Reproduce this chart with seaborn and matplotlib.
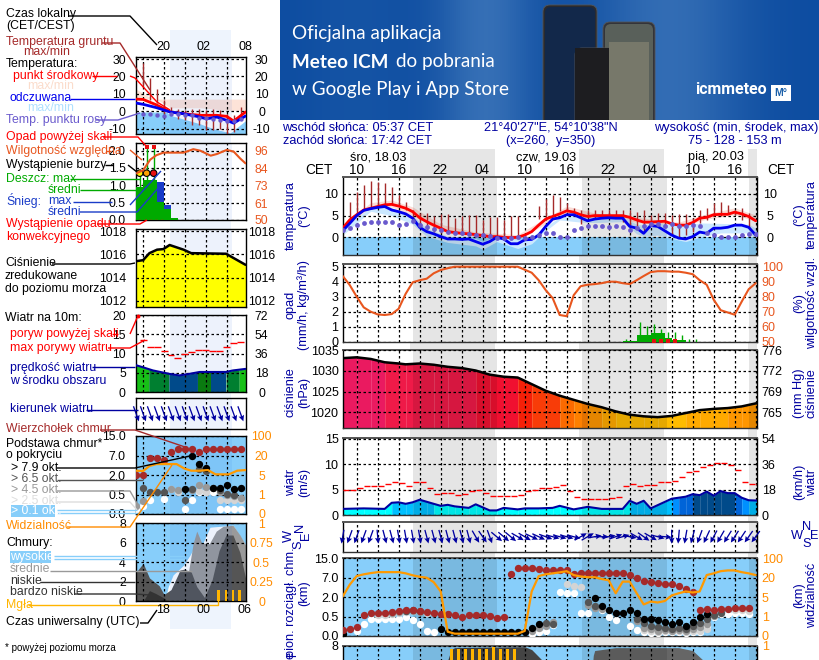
import numpy as np
import seaborn as sns
import matplotlib.pyplot as plt
from matplotlib.patches import FancyBboxPatch, Rectangle
from matplotlib.ticker import NullLocator

# ---- main meteogram, hours counted in CET from 18.03 00:00
hours = list(range(8, 68))
temp_mid = [2.1, 4, 5.2, 6.3, 6.7, 7.1, 7.5, 7.6, 7.2, 6.7, 5.9, 4.5, 3.6, 2.8, 2.1, 1.3, 1.1, .9, .8, .6,
            .4, .15, .15, 0, -.1, 0, .5, 1.3, 2.8, 4.2, 4.8, 5.4, 6.1, 5.8, 5.2, 4.8, 5, 5, 5, 5,
            5, 4.6, 4, 3.5, 3.5, 3.6, 3.7, 3.1, 2.8, 2.8, 3.4, 4.4, 4.6, 5.2, 5.3, 5.3, 5.8, 5.4, 4.8, 3.8]
temp_feel = [1.5, 3.2, 5, 6.2, 6.6, 6.9, 7.1, 6.3, 5.9, 5.4, 4.4, 2.3, 1.3, .8, .15, -.4, -.4, -.5, -.4, -1,
             -1.6, -1, 0, -.4, -1.5, -1.5, -.6, -.5, .5, 2.5, 4.2, 4.5, 5.2, 5.2, 4.5, 3.8, 4.2, 4.4, 4.5, 4.4,
             4.4, 2.5, 2.1, .9, 2.7, 2.5, 1.5, .5, -.2, -.4, .15, 1.2, .9, 2.1, 2.1, 2.3, 2.8, 2.8, 2.3, .5]
dew = [1.6, 2.1, 2.8, 3.4, 3.6, 3.6, 3.6, 3.5, 2.8, 3.1, 3.8, 2.8, 2.3, 1.8, 1.7, 1.2, .9, .9, .8, .6,
       .5, .2, -.1, -.1, -.2, 0, -.2, .15, .5, .9, .9, 0, 0, 1.7, 2.2, 2.6, 2.6, 2.5, 2.3, 2.5,
       2.4, 1.7, 2.1, 2.5, 3, 3.1, 2.5, 3.1, 2.5, 2.7, 2.8, 2.5, .9, .5, .15, 0, .15, .5, .7, .7]
ground_h = list(range(9, 34)) + list(range(36, 67))
ground_hi = [8.1, 10.5, 12, 13, 12.8, 12.5, 11.5, 9.8, 8.1, 6.3, 5.5, 5.5, 4.8, 5.3, 5.3, 4.4, 4.8, 5.2, 5.2, 4,
             4.6, 4.6, 4, 4.9, 4.9, 7.2, 8.8, 9.8, 9.2, 7.8, 6.7, 6.3, 6.3, 6.2, 6.3, 6.3, 6.3, 6.3, 6.3, 5.9,
             6.2, 5.2, 5.7, 5.5, 5.2, 5.4, 5.4, 4.4, 6.3, 6.7, 8, 8.2, 7.5, 6.3, 6.7, 5.7]
ground_lo = [4, 4.8, 6.3, 6.7, 7.1, 7.4, 7.5, 7.2, 6.3, 4, 2.5, 1.7, 1.3, .9, .9, .9, .9, .5, .4, .15,
             0, 0, 0, 0, 0, 4.2, 4.4, 4.8, 6.1, 5.9, 5.5, 3.1, 4.4, 4.4, 4.4, 4.4, 4.4, 3.6, 2.6, 2.5,
             1.3, 2.5, 2.5, 2.1, .5, 0, .5, 1.3, 3.4, 4, 4.8, 4.8, 5.5, 5.2, 4, 2.1]
pink_h = [8, 12, 15, 18, 22, 27, 33, 36, 40, 44, 50, 56, 60, 64, 68]
pink_hi = [3, 8, 8.6, 7, 3, 1.2, .6, 3.5, 7.2, 5.6, 4.6, 3.5, 5.4, 6.8, 4.6]
pink_lo = [1.5, 6.2, 7, 5, 1.5, .1, -.4, 2.2, 5.5, 4.4, 3.5, 2.2, 4.2, 5.2, 3.2]
feel_h = [8, 12, 15, 18, 20, 23, 27, 28, 30, 33, 35, 37, 39, 42, 44, 48, 50, 51, 53, 55, 57, 59, 62, 66, 68]
feel_hi = [2, 7, 6.8, 5, 2, .2, -.3, -1, .3, -.6, 0, 2.5, 4.6, 5.2, 4.4, 4.8, 3, 2.8, 3.2, 3.1, 3, 3.3, 3.2, 3, 1.2]
feel_lo = [.5, 6, 5, 3, .2, -1.2, -2, -2.8, -1, -2.6, -1.5, 1.5, 4, 3.5, 3.4, 3.6, .8, .2, .5, -.3, -1, 0, 1, 1, -1.4]

rh = [93.8, 87.8, 80, 72.9, 70, 68.2, 67.8, 68.4, 72, 82, 89.6, 91, 92, 95.6, 97.8, 99, 100, 100, 100, 100,
      100, 100, 100, 100, 100, 100, 98, 96, 91, 84.4, 79, 67.8, 67, 81, 87, 88, 88.4, 89, 90, 90,
      89, 88.4, 91, 93.8, 96.4, 97, 97, 96.7, 96.7, 96, 95, 91, 88, 78, 71, 69.5, 68, 76.7, 85, 89]
rain_h = [48, 49, 50, 51, 52, 53, 54, 55, 56]
rain_mean = [.05, .05, .44, .44, .6, .6, .22, .1, .1]
rain_max_h = [48.5, 50.5, 51.5, 52.5, 53.5, 54.5, 55.5, 56.5, 57.5, 58.5]
rain_max = [.2, 1.33, 1.04, 1.2, .82, .67, .67, .44, .2, .2]
conv_h = [52.5, 53.5, 54.5, 55.5]

press_h = [8, 10, 12, 14, 16, 17, 19, 21, 23, 25, 27, 29, 31, 33, 35, 37, 39, 41, 43, 45, 47, 49, 51, 53, 55, 57, 59, 61, 63, 65, 68]
press = [1033.1, 1033.3, 1032.9, 1032.1, 1031.8, 1031.6, 1031.8, 1031.5, 1031, 1030.7, 1030.1, 1029.1, 1028.6, 1028.4,
         1026.8, 1025.2, 1024, 1023, 1022, 1021.2, 1020.2, 1019.4, 1019, 1018.8, 1019.1, 1019.8, 1020.5, 1020.8, 1021, 1021.4, 1022.5]
press_edges = [1000, 1020, 1021, 1022, 1023, 1024, 1026, 1028, 1030, 1032, 1040]
press_colors = ["#ffbc00", "#ffaa00", "#fe9600", "#fd8000", "#fb6a00", "#f83c08", "#f52008", "#f01030", "#ef1a48", "#ea1a60"]

wind_h = [8, 11, 14, 15, 16, 17, 18, 19, 20, 21, 22, 23, 24, 26, 27, 28, 29, 30, 31, 33, 34, 36, 38, 39, 41, 43, 45, 48, 49, 50, 51, 52, 55, 56, 57, 58, 59, 60, 61, 62, 63, 64, 65, 66, 68]
wind = [1.2, 1.3, 1.2, 2.4, 2.5, 2.2, 2.5, 3, 2.6, 2.2, 1.8, 2, 1.7, 1.4, 2.1, 1.5, .9, .9, 1.4, 1.1, 1.3, 1.3, 1.4, 1.8, 1.1, 1.6, 1.2, 1.2, 2.8, 2.2, 2.8, 1.3, 3.2, 3.4, 3.6, 4.1, 3.9, 4.6, 3.8, 4.7, 4.3, 4.3, 3.4, 2.9, 2.8]
gust = [5, 5, 5.4, 5.7, 5.7, 5.7, 6.05, 6.4, 6.2, 5.8, 6.4, 6.4, 5.4, 4.1, 4.3, 4.3, 3.9, 4.1, 4.8, 5,
        4.3, 3.7, 3.7, 3.7, 3.7, 3.9, 4.7, 5, 5.3, 5.3, 5.6, 5.9, 4.7, 3.5, 3.1, 3.1, 3.1, 3.1, 3.4, 3.6,
        5.7, 6.1, 5.7, 5.9, 5.9, 6.4, 6.4, 6.7, 7.4, 8.4, 8.7, 9.4, 9.9, 10.2, 10.2, 9.9, 8.8, 6.4, 6.05, 6.05]
wind_edges = [0, 2, 3, 3.3, 3.9, 9]
wind_colors = ["#00ffff", "#00c0ff", "#0090ff", "#0064d8", "#004a8a"]
wind_dir = [10, 20, 20, 20, 20, 355, 345, 345, 350, 350, 350, 350, 345, 345, 345, 345, 345, 345, 345, 330,
            325, 340, 310, 310, 310, 300, 300, 295, 295, 290, 285, 285, 285, 285, 240, 240, 260, 270, 260, 250,
            255, 280, 300, 305, 300, 285, 275, 0, 5, 10, 15, 20, 25, 28, 30, 32, 33, 34, 35, 36]

cloud_top_h = list(range(8, 32)) + list(range(32, 67))
cloud_top = [.15, .18, .24, .63, .81, .81, .81, .89, .94, .97, .97, .94, .89, .79, .71, .71, .63, .49, .6, .63, .6, .55, .47, .48,
             8.5, 10.8, 10.9, 10.9, 10.6, 10.3, 10.3, 10, 10, 8.5, 8.8, 8.8, 8.8, 8.8, 8.8, 8.8, 8.8, 8.3, 6.9, 6.1, 5.8, 5.6, 5.4, 5.4, 4.75, 4.15, 3.3,
             1, 1.07, 1, 1.07, 1.1, 1.2, 1.16, 1.16]
c79_h = [8, 22] + list(range(23, 36)) + [36, 44, 45, 46, 47, 48, 49, 50, 51, 52, 53, 54, 55, 56, 57, 58, 59, 60]
c79 = [.06, .17] + [.11] * 12 + [.2, .32, 1.9, 1.28, 1, .8, .8, 1, .77, .43, .43, .41, .35, .32, .37, .26, .37, .5, .73]
c65_h = [17, 18, 19, 37, 38, 43, 44, 50, 51, 52, 53, 54, 55, 56, 57, 58, 59, 60, 61, 62]
c65 = [.92, .97, .9, .34, .3, 1.6, 1.3, .43, .33, .26, .24, .2, .18, .2, .17, .26, .33, .45, .6, .8]
c45_h = [15, 16, 17, 18, 19, 35, 36, 37, 38, 43, 44, 45, 50, 51, 52, 53, 54, 55, 56, 57, 58, 59, 60, 61]
c45 = [.75, .85, .9, .93, .88, .12, .2, .25, .37, 1.4, 1.2, 1.1, .38, .2, .17, .14, .16, .14, .15, .13, .18, .22, .3, .55]
c25_h = [13, 14, 15, 16, 17, 18, 19, 20, 38, 40, 41, 42, 51, 52, 53, 54, 55, 56, 57, 58, 59, 60, 64, 65, 66]
c25 = [.6, .6, .7, .8, .85, .9, .9, .8, .3, 5.4, 4.75, 4.5, .16, .14, .1, .12, .12, .12, .1, .12, .14, .18, 1, 1, .9]
c01_h = [10, 11, 12, 13, 14, 15, 16, 17, 18, 19, 20, 21, 35, 36, 37, 38, 39, 40, 41, 42, 43, 45, 46, 47, 49, 50, 51, 52, 53, 54, 55, 56, 57, 58, 59, 60, 61, 62, 63, 64, 65, 66]
c01 = [.13, .32, .45, .45, .45, .45, .45, .48, .42, .3, .13, .1, .06, .1, .12, .28, 3.3, 3, 3, .8, .8, 1, .5, .4, .26, .15, .1, .08, .08, .1, .1, .1, .08, .1, .1, .25, .5, .7, .7, .8, .8, .7]
vis = [5.5, 14.6, 27, 34, 39, 43, 43, 43, 43, 38, 30, 24, 20, 16.6, 9.4, .22, .12, .12, .12, .12,
       .12, .12, .12, .12, .12, .12, .26, 9.4, 27, 34, 38, 42, 47, 31, 25, 22, 22, 19, 18, 8,
       17, 17, 8, 3.5, 4.1, 3.9, 4.2, 6.3, 8, 9.4, 8.6, 9.4, 31, 38, 47, 50, 50, 43, 38, 31]
cover_low_h = [22, 23, 23.5, 24, 34, 35, 36.5, 37.3, 38]
cover_low = [0, 6.5, 7.6, 7.8, 7.9, 7.6, 6.5, 5, 0]
cover_mid_h = [43, 43.8, 44, 47, 56, 58, 59.5, 60.5]
cover_mid = [0, 7, 7.5, 7.8, 7.8, 7.5, 6.5, 0]
fog_h = [23.5, 24.5, 25.5, 26.5, 27.5, 28.5, 29.5, 30.5, 31.5, 32.5]
fog = [7.7, 7.7, 7.7, 7.7, 7.7, 7.7, 7.9, 7.7, 7.7, 7.7]

# ---- left legend meteogram, hours in UTC
l_hours = list(range(15, 30))
l_temp_h = [13.9, 15, 16.9, 18.9, 20.8, 23.2, 25.6, 27, 28, 29.7]
l_temp = [7, 6.8, 3.7, -.4, -1.4, -2.3, -2.3, -2.9, -5.6, -.4]
l_feel_h = [13.9, 15, 16.9, 18.9, 20.8, 22.7, 24.1, 25.6, 27, 28, 29.7]
l_feel = [4.8, 4, 2.1, -.4, -1.4, -2.9, -4.3, -3.3, -5.2, -6.8, -2.7]
l_pink_h = [13.9, 15.5, 16.9, 18.9, 23.2, 27, 29.7]
l_pink = [13, 9, 7, 2, 2, .6, .6]
l_blue_h = [13.9, 18.4, 18.9, 23.2, 25.1, 27.5, 29.7]
l_blue = [-.4, -.4, -2.3, -7.2, -10, -12.4, -5.4]
l_dew = [-1.4, -1.4, -2.3, -2.7, -1.4, -1.4, -2.3, -2.3, -3.7, -3.7, -4.3, -4.8, -5.6, -5.6, -4.3]
l_ground_hi = [27.7, 19, 13, 6.4, 2.5, 1.5, .6, 1.5, 1.5, 1, 1.5, .6, -1.4, -2.3, 2.5]
l_ground_lo = [14, 6.4, 4.5, -1.4, -2.3, -4.3, -5.2, -8, -8, -11, -11, -10, -13, -12, -5.2]
l_rain_h = [14, 15, 16, 17, 18, 19]
l_rain = [.96, 1.15, 1.15, .53, .33, .06]
l_snow = [0, 0, 0, .57, .1, 0]
l_stem_h = [14.5, 15.5, 16.5]
l_stem_lo = [.96, 1.15, 1.15]
l_stem_hi = [1.35, 2.1, 2.1]
l_storm_colors = ["#ffee00", "#ffa000", "#e81010"]
l_rh_h = [14, 15, 16, 16.9, 17.9, 20.8, 22.2, 23.2, 24.7, 25.6, 27, 28, 28.9, 29.7]
l_rh = [81, 83, 90, 93, 94.7, 94.7, 97, 96, 92.7, 93.8, 96.5, 95.4, 91, 87.6]
l_press_h = [13.9, 15, 15.9, 17, 17.9, 18.8, 20.8, 21.9, 26.9, 29.7]
l_press = [1015.4, 1015.5, 1016.1, 1016.4, 1016.45, 1016.8, 1016.4, 1016.1, 1016.05, 1015.1]
l_wind_h = [13.9, 15, 16.4, 18.8, 20.2, 21.6, 23.1, 26.9, 27.9, 29.7]
l_wind = [7, 6.4, 5.6, 4.7, 4.3, 4.7, 5.2, 5.2, 5.6, 6]
l_gust = [13.5, 11.6, 11.6, 10.6, 9.6, 8.9, 9.8, 10.4, 10.9, 10.9, 10.6, 10.6, 11.6, 12.8, 13]
l_wind_edges = [13.9, 15.8, 18.7, 22.8, 24.8, 26.9, 28.8, 29.7]
l_wind_colors = ["#17c017", "#007f30", "#004a8a", "#0a7a10", "#004a8a", "#007f30", "#17c017"]
l_dir = [340] * 16
l_top_h = list(range(14, 30))
l_top = [2, 2, 6.3, 6.3, 5.9, 8.6, 9.5, 9.5, 9.5, 8.6, 9.5, 9.5, 9.5, 9.5, 9.5, 9.5]
l_c79_h = [21, 22, 23, 24, 25, 26, 27, 28, 29]
l_c79 = [.9, 6.9, 4.75, 3.9, 1, 1, 1.24, .9, 1]
l_c65_h = [15, 16, 17, 18, 21, 22, 23, 24, 26, 27, 28]
l_c65 = [1, .67, .67, .67, .36, .9, 3.5, 3, .86, .56, .5]
l_c45_h = [14, 15, 19, 20, 22, 23, 24, 25, 26, 27, 28, 29]
l_c45 = [.2, .34, .9, .85, .85, 1.2, 1.1, 1, .7, .5, .45, .42]
l_c25_h = [19, 20, 23, 24, 26, 27, 28, 29]
l_c25 = [.9, .7, .8, .7, .36, .36, .36, .36]
l_c01_h = [14, 15, 16, 18, 21, 22, 23, 24, 25, 26, 27, 28, 29]
l_c01 = [.13, .2, .36, .38, .13, .36, .72, .67, .67, .13, .13, .13, .13]
l_vis_h = [13.9, 15, 15.9, 16.9, 19.8, 20.9, 21.9, 23.1, 24.3, 25.4, 27.3, 28.5, 29.7]
l_vis = [8.3, 8.1, 11.9, 13.4, 13.4, 10, 8.3, 8.3, 8.8, 5.5, 5.5, 8.3, 8.8]
l_high_h = [18.1, 18.6, 19.3, 20.8, 21.7, 22.4, 23.6, 24.6, 27.9, 28.9, 29.7]
l_high = [0, 1.5, 2.7, 3.7, 4.7, 5.6, 6, 7.6, 7.8, 6.7, 5.8]
l_mid_h = [13.9, 19, 20.3, 21.5, 22.2, 22.7, 23.4, 24.5, 25.5, 26.5, 27.9, 28.9, 29.7]
l_mid = [0, 0, 3.2, 3, 6, 7.2, 6, 5.9, 7.2, 7.7, 7.8, 6.8, 5.8]
l_low_h = [13.9, 15, 15.9, 17.3, 18, 19, 20.3, 20.9, 21.9, 22.7, 23.8, 24.9, 25.9, 26.9, 27.9, 28.9, 29.7]
l_low = [2.9, 3.9, 2.4, 1.6, .7, 1.2, 3.2, 3.3, 3, 1.5, .4, 2.2, 5.2, 6.8, 6.8, 5, 2.4]
l_vlow_h = [15, 15.9, 16.8, 18.1, 18.4]
l_vlow = [0, 1.1, .8, .3, 0]
l_fog_h = [25.8, 26.9, 27.9, 28.9]
l_fog = [1.15, 1.15, 1.15, 1.15]

W, H = 820, 660
NAVY = "#0000a0"
RED = "#ff0000"
BROWN = "#a52a2a"
ORANGE = "#ff8c00"
RH_COL = "#e8561e"
SKY = "#87cefa"
FONT = "Liberation Sans"
GRID = (0, (2, 2))
CLOUD_COLS = ["#000000", "#555555", "#999999", "#d4d4d4", "#ffffff"]

sns.set_theme(style="white")
plt.rcParams["font.family"] = FONT
plt.rcParams["font.size"] = 8.8
plt.rcParams["text.color"] = "black"
plt.rcParams["axes.unicode_minus"] = False
plt.rcParams["xtick.color"] = "black"
plt.rcParams["ytick.color"] = "black"


def km_fwd(v):
    return np.interp(v, [0, .5, 2, 7, 15], [0, 1, 2, 3, 4])


def km_inv(v):
    return np.interp(v, [0, 1, 2, 3, 4], [0, .5, 2, 7, 15])


def vis_fwd(v):
    return np.interp(v, [0, 1, 5, 20, 100], [0, 1, 2, 3, 4])


def vis_inv(v):
    return np.interp(v, [0, 1, 2, 3, 4], [0, 1, 5, 20, 100])


fig = plt.figure(figsize=(W / 100, H / 100), dpi=100, facecolor="white")


def panel(x0, y0, x1, y1, xlim, xticks):
    ax = fig.add_axes([x0 / W, 1 - y1 / H, (x1 - x0) / W, (y1 - y0) / H], zorder=2)
    ax.set_xlim(*xlim)
    ax.set_xticks(xticks)
    ax.tick_params(axis="x", labelbottom=False, length=0)
    ax.tick_params(axis="y", length=0)
    ax.grid(True, color="black", linestyle=GRID, linewidth=0.9)
    ax.set_axisbelow(False)
    for s in ax.spines.values():
        s.set_visible(True)
        s.set_color("black")
        s.set_linewidth(1)
    return ax


def main_panel(y0, y1):
    ax = panel(342.7, y0, 757.5, y1, (8, 67.26), list(range(10, 68, 3)))
    ax.spines["top"].set_color("#555555")
    ax.spines["top"].set_linewidth(1.4)
    ax.spines["bottom"].set_color("#333333")
    for a, b in [(18, 30.1), (42.2, 54.4), (66.1, 67.26)]:
        ax.axvspan(a, b, color="black", alpha=0.1, lw=0, zorder=2)
    return ax


def left_panel(y0, y1):
    ax = panel(135.5, y0, 245.5, y1, (13.9, 29.7), list(range(15, 30, 3)))
    ax.axvspan(18.85, 27.7, color="#2060e0", alpha=0.08, lw=0, zorder=2)
    return ax


def side_ticks(ax, ticks, labels, col="black", pad=11.5, size=8.8):
    # right hand labels on a twin axis
    tw = ax.twinx()
    tw.set_ylim(ax.get_ylim())
    tw.set_yscale(ax.get_yscale()) if ax.get_yscale() != "function" else None
    tw.set_yticks(ticks)
    tw.set_yticklabels(labels, color=col, fontsize=size, ha="center")
    tw.tick_params(axis="y", length=0, pad=pad)
    tw.grid(False)
    tw.yaxis.set_minor_locator(NullLocator())
    for s in tw.spines.values():
        s.set_visible(False)
    return tw


def left_labels(ax, ticks, labels, pad=7, size=8.8):
    ax.set_yticks(ticks)
    ax.set_yticklabels(labels, fontsize=size)
    ax.tick_params(axis="y", pad=pad)


def binned_fill(ax, x, y, edges, colors, bottom, z=1):
    for i in range(len(x) - 1):
        c = colors[int(np.searchsorted(edges, (y[i] + y[i + 1]) / 2) - 1)]
        ax.fill_between(x[i:i + 2], y[i:i + 2], bottom, color=c, lw=0, zorder=z)


def line(ax, x, y, col, lw, z=4):
    sns.lineplot(x=x, y=y, ax=ax, color=col, linewidth=lw, zorder=z, legend=False, errorbar=None, sort=False)


def dots(ax, x, y, col, s=20, z=5):
    sns.scatterplot(x=x, y=y, ax=ax, color=col, s=s, zorder=z, linewidth=0, legend=False, clip_on=True)


def arrows(ax, h, deg, size):
    d = np.radians(deg)
    ax.quiver(h, np.zeros(len(h)), -np.sin(d) * size, -np.cos(d) * size, angles="uv", scale_units="dots",
              units="dots", scale=1, width=1.3, headwidth=4.4, headlength=4.6, headaxislength=4, pivot="mid",
              color=NAVY, zorder=5, clip_on=False)
    ax.set_ylim(-1, 1)
    ax.set_yticks([])


# background stripes, banner
bg = fig.add_axes([0, 0, 1, 1], zorder=0)
bg.set_xlim(0, W)
bg.set_ylim(H, 0)
bg.axis("off")
bg.add_patch(Rectangle((170, 30), 61.5, 599, color="#eef4fd", lw=0))
for a, b in [(410, 495), (579, 664), (748, 757.5)]:
    bg.add_patch(Rectangle((a, 149), b - a, 511, color="#e6e6e6", lw=0))

banner = fig.add_axes([280 / W, 1 - 120 / H, 540 / W, 120 / H], zorder=1)
banner.axis("off")
gx = np.linspace(0, 1, 270)
glow = 0.75 * np.exp(-((gx - 0.38) / 0.09) ** 2) + 0.7 * np.exp(-((gx - 0.72) / 0.14) ** 2) + 0.15 * np.exp(-((gx - 0.14) / 0.1) ** 2)
top = np.array([0.05, 0.30, 0.63])
light = np.array([0.26, 0.48, 0.74])
grad = top[None, :] + glow[:, None] * (light - top)[None, :]
banner.imshow(grad[None, :, :], aspect="auto", extent=(0, 540, 120, 0))
banner.set_xlim(0, 540)
banner.set_ylim(120, 0)
for x0, y0, w, col, screen in [(263, 5, 54, "#2a2a2e", "#12284a"), (323, 22, 52, "#33343a", "#59605a"), (295, 48, 53, "#1d1d20", "#f4f4f4")]:
    banner.add_patch(FancyBboxPatch((x0, y0), w, 140, boxstyle="round,pad=0,rounding_size=7", fc=col, ec="#555555", lw=0.6))
    banner.add_patch(FancyBboxPatch((x0 + 2, y0 + 2), w - 4, 140, boxstyle="round,pad=0,rounding_size=6", fc=screen, ec="none"))
banner.add_patch(Rectangle((298, 60), 47, 6, color="#444444", lw=0))
banner.add_patch(Rectangle((301, 86), 41, 12, color="#bfe0f6", lw=0))
banner.add_patch(Rectangle((301, 98), 41, 22, color="#eedddd", lw=0))
banner.add_patch(Rectangle((329, 42), 40, 78, color="#77786a", lw=0, zorder=1.5))
banner.add_patch(Rectangle((295, 48), 53, 72, fc="#1d1d20", lw=0, zorder=1.4))
for x, y, s, bold in [(12, 33, "Oficjalna aplikacja", False), (12, 62, "Meteo ICM", True), (12, 89, "w Google Play i App Store", False)]:
    banner.text(x, y, s, color="white", fontsize=13.6, family="Lato", fontweight="bold" if bold else "normal", va="center")
banner.text(116, 62, "do pobrania", color="white", fontsize=13.6, family="Lato", va="center")
banner.text(415, 90, "icmmeteo", color="white", fontsize=11.5, family="Roboto", fontweight="bold", va="center")
banner.add_patch(Rectangle((491, 85), 20, 16, color="white", lw=0))
banner.text(501, 93, "M°", color="#1a5fa8", fontsize=7.5, fontweight="bold", ha="center", va="center")

# ---- main panels
ax = main_panel(177.3, 255)
ax.set_ylim(-4.1, 13.85)
ax.axhspan(-4.1, 0, color=SKY, lw=0, zorder=0.5)
ax.fill_between(pink_h, pink_lo, pink_hi, color="#fbdcd6", lw=0, zorder=0.8)
ax.fill_between(feel_h, feel_lo, feel_hi, color="#cbe8ff", lw=0, zorder=0.9)
ax.vlines(ground_h, ground_lo, ground_hi, color=BROWN, linewidth=1, zorder=3)
line(ax, hours, temp_mid, RED, 2)
line(ax, hours, temp_feel, "#0000ee", 2)
dots(ax, hours, dew, "#6a5acd", s=12)
left_labels(ax, [0, 5, 10], ["0", "5", "10"], pad=3, size=9)
side_ticks(ax, [0, 5, 10], ["0", "5", "10"], pad=9, size=9)

ax = main_panel(264, 341.7)
ax.set_ylim(0, 5.18)
ax.bar(rain_h, rain_mean, width=1, align="edge", color="#00aa00", lw=0, zorder=3)
ax.vlines(rain_max_h, 0, rain_max, color="#00aa00", linewidth=1, zorder=3)
ax.scatter(conv_h, [0.02] * 4, marker="s", s=8, color="#e01010", zorder=6, clip_on=False, linewidth=0)
left_labels(ax, [0, 1, 2, 3, 4, 5], ["0", "1", "2", "3", "4", "5"], pad=3, size=9)
tw = ax.twinx()
tw.set_ylim(50, 101.8)
tw.set_yticks([50, 60, 70, 80, 90, 100])
tw.set_yticklabels(["50", "60", "70", "80", "90", "100"], color=RH_COL, fontsize=9, ha="left")
tw.tick_params(axis="y", length=0, pad=3)
tw.grid(False)
for s in tw.spines.values():
    s.set_visible(False)
line(tw, hours, rh, RH_COL, 1.5)

ax = main_panel(350.3, 428.3)
ax.set_ylim(1016.1, 1035)
binned_fill(ax, press_h, press, press_edges, press_colors, 1016.1)
line(ax, press_h, press, "black", 1.8)
left_labels(ax, [1020, 1025, 1030, 1035], ["1020", "1025", "1030", "1035"], pad=3, size=9)
tw = side_ticks(ax, [1020, 1025, 1030, 1035], ["765", "769", "772", "776"], pad=3, size=9)
for t in tw.get_yticklabels():
    t.set_ha("left")

ax = main_panel(437.7, 515)
ax.set_ylim(0, 15.2)
binned_fill(ax, wind_h, wind, wind_edges, wind_colors, 0)
line(ax, wind_h, wind, "#0000a0", 1.5)
ax.hlines(gust, hours, np.array(hours) + 0.9, color=RED, linewidth=1, zorder=4)
left_labels(ax, [0, 5, 10, 15], ["0", "5", "10", "15"], pad=3, size=9)
tw = side_ticks(ax, [0, 5, 10, 15], ["0", "18", "36", "54"], pad=3, size=9)
for t in tw.get_yticklabels():
    t.set_ha("left")

ax = main_panel(521.7, 551.7)
arrows(ax, hours, wind_dir, 14)
ax.grid(True, axis="x", color="black", linestyle=GRID, linewidth=0.9)

ax = main_panel(558.3, 636)
ax.set_facecolor(SKY)
ax.set_yscale("function", functions=(km_fwd, km_inv))
ax.set_ylim(0, 15)
ax.yaxis.set_minor_locator(NullLocator())
left_labels(ax, [0, .5, 2, 7, 15], ["0.0", "0.5", "2.0", "7.0", "15.0"], pad=3, size=9)
dots(ax, c01_h, c01, CLOUD_COLS[4], s=28)
dots(ax, c25_h, c25, CLOUD_COLS[3], s=28, z=5.1)
dots(ax, c45_h, c45, CLOUD_COLS[2], s=28, z=5.2)
dots(ax, c65_h, c65, CLOUD_COLS[1], s=28, z=5.3)
dots(ax, c79_h, c79, CLOUD_COLS[0], s=28, z=5.4)
dots(ax, cloud_top_h, cloud_top, BROWN, s=28, z=5.5)
tw = ax.twinx()
tw.set_yscale("function", functions=(vis_fwd, vis_inv))
tw.set_ylim(0, 100)
tw.set_yticks([0, 1, 5, 20, 100])
tw.yaxis.set_minor_locator(NullLocator())
tw.set_yticklabels(["0", "1", "5", "20", "100"], color=ORANGE, fontsize=9, ha="left")
tw.tick_params(axis="y", length=0, pad=3)
tw.grid(False)
for s in tw.spines.values():
    s.set_visible(False)
line(tw, hours, vis, "#ff9900", 1.6, z=6)

ax = main_panel(645.7, 723.4)
ax.set_facecolor(SKY)
ax.set_ylim(0, 8)
ax.fill_between(cover_low_h, 0, cover_low, color="#444444", lw=0, zorder=1)
ax.fill_between(cover_mid_h, 0, cover_mid, color="#666666", lw=0, zorder=1)
ax.bar(fog_h, fog, width=0.42, color="#ffb400", lw=0, zorder=3)
left_labels(ax, [8], ["8"], pad=3, size=9)
tw = side_ticks(ax, [8], ["1"], col=ORANGE, pad=3, size=9)
for t in tw.get_yticklabels():
    t.set_ha("left")

# ---- left panels
ax = left_panel(57.3, 134.3)
ax.set_ylim(-13.2, 31)
ax.fill_between(l_blue_h, -13.2, l_blue, color=SKY, lw=0, zorder=0.8)
ax.fill_between(l_pink_h, l_temp[:1] * 7, l_pink, color="#fde3d8", lw=0, zorder=0.5)
ax.vlines(l_hours, l_ground_lo, l_ground_hi, color=BROWN, linewidth=1, zorder=3)
line(ax, l_temp_h, l_temp, RED, 2)
line(ax, l_feel_h, l_feel, "#0000ee", 2)
dots(ax, l_hours, l_dew, "#6a5acd", s=10)
left_labels(ax, [-10, 0, 10, 20, 30], ["-10", "0", "10", "20", "30"])
side_ticks(ax, [-10, 0, 10, 20, 30], ["-10", "0", "10", "20", "30"])

ax = left_panel(143, 220)
ax.set_ylim(0, 2.22)
ax.bar(l_rain_h, l_rain, width=1, align="edge", color="#00aa00", lw=0, zorder=3)
ax.bar(l_rain_h, l_snow, bottom=l_rain, width=1, align="edge", color="#1a3cc8", lw=0, zorder=3)
ax.vlines(l_stem_h, l_stem_lo, l_stem_hi, color="#00aa00", linewidth=1, zorder=3)
ax.scatter(l_stem_h, [1.35] * 3, c=l_storm_colors, edgecolors="black", linewidths=0.8, s=22, zorder=6)
ax.scatter(l_stem_h[1:], [2.1] * 2, marker="s", color="#e81010", s=10, zorder=6, linewidth=0)
ax.hlines([0.01], 14.3, 18, color="#e81010", linewidth=1, linestyle=GRID, zorder=6)
left_labels(ax, [0, .5, 1, 1.5, 2], ["0.0", "0.5", "1.0", "1.5", "2.0"])
tw = ax.twinx()
tw.set_ylim(50, 101.1)
tw.set_yticks([50, 61, 73, 84, 96])
tw.set_yticklabels(["50", "61", "73", "84", "96"], color=RH_COL, fontsize=8.8, ha="center")
tw.tick_params(axis="y", length=0, pad=11.5)
tw.grid(False)
for s in tw.spines.values():
    s.set_visible(False)
line(tw, l_rh_h, l_rh, RH_COL, 1.5)

ax = left_panel(229.3, 306.7)
ax.set_ylim(1011.5, 1018.15)
ax.fill_between(l_press_h, 1011.5, l_press, color="#ffff00", lw=0, zorder=2.2)
line(ax, l_press_h, l_press, "black", 1.8)
left_labels(ax, [1012, 1014, 1016, 1018], ["1012", "1014", "1016", "1018"])
side_ticks(ax, [1012, 1014, 1016, 1018], ["1012", "1014", "1016", "1018"])

ax = left_panel(315, 392)
ax.set_ylim(0, 20)
for i, c in enumerate(l_wind_colors):
    xs = np.array(l_wind_h)
    a, b = l_wind_edges[i], l_wind_edges[i + 1]
    seg = np.array([a] + [v for v in l_wind_h if a < v < b] + [b])
    ax.fill_between(seg, 0, np.interp(seg, xs, l_wind), color=c, lw=0, zorder=2.2)
line(ax, l_wind_h, l_wind, NAVY, 1.5)
ax.hlines(l_gust, np.array(l_hours) - 0.5, np.array(l_hours) + 0.5, color=RED, linewidth=1, zorder=4)
ax.scatter([14.3], [19.7], color=RED, s=8, linewidth=0, zorder=6, clip_on=False)
left_labels(ax, [0, 5, 10, 15, 20], ["0", "5", "10", "15", "20"])
side_ticks(ax, [0, 5, 10, 15, 20], ["0", "18", "36", "54", "72"])

ax = left_panel(398.3, 429.3)
arrows(ax, list(range(14, 30)), l_dir, 16)
ax.grid(True, axis="x", color="black", linestyle=GRID, linewidth=0.9)

ax = left_panel(436, 514)
ax.set_facecolor(SKY)
ax.set_yscale("function", functions=(km_fwd, km_inv))
ax.set_ylim(0, 15)
ax.yaxis.set_minor_locator(NullLocator())
left_labels(ax, [0, .5, 2, 7, 15], ["0.0", "0.5", "2.0", "7.0", "15.0"])
dots(ax, l_c01_h, l_c01, CLOUD_COLS[4], s=28)
dots(ax, l_c25_h, l_c25, CLOUD_COLS[3], s=28, z=5.1)
dots(ax, l_c45_h, l_c45, CLOUD_COLS[2], s=28, z=5.2)
dots(ax, l_c65_h, l_c65, CLOUD_COLS[1], s=28, z=5.3)
dots(ax, l_c79_h, l_c79, CLOUD_COLS[0], s=28, z=5.4)
dots(ax, l_top_h, l_top, BROWN, s=28, z=5.5)
tw = ax.twinx()
tw.set_yscale("function", functions=(vis_fwd, vis_inv))
tw.set_ylim(0, 100)
tw.set_yticks([0, 1, 5, 20, 100])
tw.yaxis.set_minor_locator(NullLocator())
tw.set_yticklabels(["0", "1", "5", "20", "100"], color=ORANGE, fontsize=8.8, ha="center")
tw.tick_params(axis="y", length=0, pad=11.5)
tw.grid(False)
for s in tw.spines.values():
    s.set_visible(False)
line(tw, l_vis_h, l_vis, "#ff9900", 1.6, z=6)

ax = left_panel(523.3, 601.3)
ax.set_facecolor(SKY)
ax.set_ylim(0, 8)
ax.fill_between(l_high_h, 0, l_high, color="white", lw=0, zorder=0.6)
ax.fill_between(l_mid_h, 0, l_mid, color="#9a9a9a", lw=0, zorder=0.7)
ax.fill_between(l_low_h, 0, l_low, color="#555555", lw=0, zorder=0.8)
ax.fill_between(l_vlow_h, 0, l_vlow, color="#333333", lw=0, zorder=0.9)
ax.bar(l_fog_h, l_fog, width=0.42, color="#ffb400", lw=0, zorder=3)
left_labels(ax, [0, 2, 4, 6, 8], ["0", "2", "4", "6", "8"])
side_ticks(ax, [0, 2, 4, 6, 8], ["0", "0.25", "0.5", "0.75", "1"], col=ORANGE)

# ---- all the text and leader lines, positions in pixels
ov = fig.add_axes([0, 0, 1, 1], zorder=10)
ov.set_xlim(0, W)
ov.set_ylim(H, 0)
ov.axis("off")


def txt(x, y, s, col="black", ha="left", size=8.8, rot=0, **kw):
    ov.text(x, y, s, color=col, ha=ha, va="center", fontsize=size, rotation=rot, **kw)


def lead(pts, col="black", lw=1):
    ov.plot([p[0] for p in pts], [p[1] for p in pts], color=col, lw=lw, solid_capstyle="butt")


for x, s in [(163, "20"), (204, "02"), (245, "08")]:
    txt(x, 47, s, ha="center", size=9)
for x, s in [(163, "18"), (204, "00"), (245, "06")]:
    txt(x, 610, s, ha="center", size=9)

txt(6, 14.5, "Czas lokalny")
txt(6, 26, "(CET/CEST)")
lead([(68, 16), (130, 16), (157, 45)])
txt(6, 42, "Temperatura gruntu", BROWN)
txt(47, 52, "max/min", BROWN, ha="center")
lead([(102, 43), (120, 43), (150, 90)], BROWN)
txt(6, 64, "Temperatura:")
txt(13, 76, "punkt środkowy", RED)
lead([(92, 76), (117, 76)], RED)
lead([(130, 76), (135, 78), (157, 102), (170, 110)], RED)
txt(27, 86, "max/min", "#fbdccb")
txt(10, 98, "odczuwana", "#0000ee")
lead([(70, 99), (135, 99)], "#0000ee")
txt(27, 108, "max/min", "#aee0ff")
txt(6, 120, "Temp. punktu rosy", "#6a5acd")
lead([(95, 120), (118, 120), (140, 113)], "#6a5acd")
txt(6, 137, "Opad powyżej skali", RED)
lead([(103, 137), (138, 137), (146, 146)], RED)
txt(6, 151, "Wilgotność względna", RH_COL)
lead([(106, 151), (111, 151)], RH_COL)
lead([(130, 150), (142, 160)], RH_COL)
txt(6, 165, "Wystąpienie burzy")
lead([(105, 165), (113, 165)])
lead([(128, 165), (137, 172)])
txt(6, 179, "Deszcz: max", "#00aa00")
lead([(70, 179), (140, 179)], "#00aa00")
txt(48, 190, "średni", "#00aa00")
lead([(80, 190), (147, 190)], "#00aa00")
txt(6, 201, "Śnieg:", "#1a3cc8")
txt(48, 201, "max", "#1a3cc8")
lead([(73, 202), (112, 202)], "#1a3cc8")
lead([(130, 205), (161, 171)], "#1a3cc8")
txt(48, 212, "średni", "#1a3cc8")
lead([(80, 212), (137, 212), (160, 186)], "#1a3cc8")
txt(6, 224, "Wystąpienie opadu", RED)
txt(6, 237, "konwekcyjnego", RED)
lead([(97, 224), (140, 224), (147, 220)], RED)
txt(5, 263, "Ciśnienie")
txt(5, 276, "zredukowane")
txt(5, 289, "do poziomu morza")
lead([(52, 264), (130, 264), (135, 263)])
txt(5, 318, "Wiatr na 10m:")
txt(10, 334, "poryw powyżej skali", RED)
lead([(112, 334), (118, 334)], RED)
lead([(130, 334), (137, 318)], RED)
txt(10, 348, "max porywy wiatru", RED)
lead([(108, 348), (130, 348), (145, 340)], RED)
txt(10, 368, "prędkość wiatru", NAVY)
txt(10, 381, "w środku obszaru", NAVY)
lead([(92, 367), (135, 367)], NAVY)
txt(10, 409, "kierunek wiatru", NAVY)
lead([(86, 410), (138, 410)], NAVY)
txt(6, 429, "Wierzchołek chmur", BROWN)
lead([(100, 430), (135, 430), (185, 447)], BROWN)
txt(6, 444, "Podstawa chmur*")
txt(6, 455, "o pokryciu")
txt(11, 468, "> 7.9 okt.")
lead([(57, 468), (135, 468), (190, 456)])
txt(11, 479, "> 6.5 okt.", "#555555")
lead([(57, 480), (143, 480)], "#555555")
txt(11, 490, "> 4.5 okt.", "#999999")
lead([(57, 491), (130, 491), (138, 505)], "#999999")
txt(11, 501, "> 2.5 okt.", "#dddddd")
lead([(57, 502), (130, 502), (137, 510)], "#dddddd")
ov.add_patch(Rectangle((11, 505), 44, 12, color=SKY, lw=0))
txt(11, 511, "> 0.1 okt.", "white")
lead([(57, 510), (137, 510)], SKY)
lead([(57, 513), (137, 513)], SKY)
txt(6, 526, "Widzialność", ORANGE)
lead([(67, 527), (130, 527), (172, 465)], ORANGE)
txt(6, 543, "Chmury:")
ov.add_patch(Rectangle((10, 551), 41, 12, color=SKY, lw=0))
txt(10, 557, "wysokie", "white")
lead([(54, 556), (185, 556)], SKY)
lead([(54, 559), (185, 559)], SKY)
txt(10, 569, "średnie", "#999999")
lead([(50, 571), (192, 571)], "#999999")
txt(10, 581, "niskie", "#333333")
lead([(40, 582), (135, 582)], "#333333")
txt(10, 592, "bardzo niskie", "#333333")
lead([(74, 594), (135, 594), (150, 595)], "#333333")
txt(6, 605, "Mgła", "#ffb400")
lead([(28, 605), (218, 605), (218, 590)], "#ffb400")
txt(6, 622, "Czas uniwersalny (UTC)")
lead([(140, 623), (148, 623), (157, 610)])
txt(5, 648, "* powyżej poziomu morza", size=7)

txt(282, 128, "wschód słońca: 05:37 CET", NAVY, size=9.2)
txt(283, 141, "zachód słońca: 17:42 CET", NAVY, size=9.2)
txt(551, 128, "21°40'27\"E, 54°10'38\"N", NAVY, ha="center", size=9.2)
txt(551, 141, "(x=260,  y=350)", NAVY, ha="center", size=9.2)
txt(818, 128, "wysokość (min, środek, max)", NAVY, ha="right", size=9.2)
txt(735, 141, "75 - 128 - 153 m", NAVY, ha="center", size=9.2)
for x, s in [(378, "śro, 18.03"), (546, "czw, 19.03"), (716, "pią, 20.03")]:
    txt(x, 157, s, ha="center", size=9.2)
for i, s in enumerate(["10", "16", "22", "04", "10", "16", "22", "04", "10", "16"]):
    txt(356.3 + i * 42, 170, s, ha="center", size=9.8)
txt(319, 170, "CET", ha="center", size=9.8)
txt(781, 170, "CET", ha="center", size=9.8)

for y, a, b in [(216, "temperatura", "(°C)"), (305, "opad", "(mm/h, kg/m³/h)"), (392, "ciśnienie", "(hPa)"), (482, "wiatr", "(m/s)")]:
    txt(291, y, a, NAVY, ha="center", size=9.2, rot=90)
    txt(304, y, b, NAVY, ha="center", size=9.2, rot=90)
txt(291, 602, "pion. rozciągł. chm.", NAVY, ha="center", size=9.2, rot=90)
txt(304, 593, "(km)", NAVY, ha="center", size=9.2, rot=90)
txt(291, 655, "e", NAVY, ha="center", size=9.2, rot=90)
for y, a, b in [(215, "(°C)", "temperatura"), (303, "(%)", "wilgotność wzgl."), (393, "(mm Hg)", "ciśnienie"), (482, "(km/h)", "wiatr"), (595, "(km)", "widzialność")]:
    txt(799, y, a, NAVY, ha="center", size=9.2, rot=90)
    txt(812, y, b, NAVY, ha="center", size=9.2, rot=90)
for x, y, s in [(289, 536, "W"), (300, 527, "N"), (298, 545, "S"), (306, 536, "E")]:
    txt(x, y, s, NAVY, ha="center", size=9.2, rot=90)
for x, y, s in [(797, 536, "W"), (807, 527, "N"), (807, 544, "S"), (814, 536, "E")]:
    txt(x, y, s, NAVY, ha="center", size=9.2)

fig.savefig("out.png", dpi=100, facecolor="white")
plt.close(fig)
